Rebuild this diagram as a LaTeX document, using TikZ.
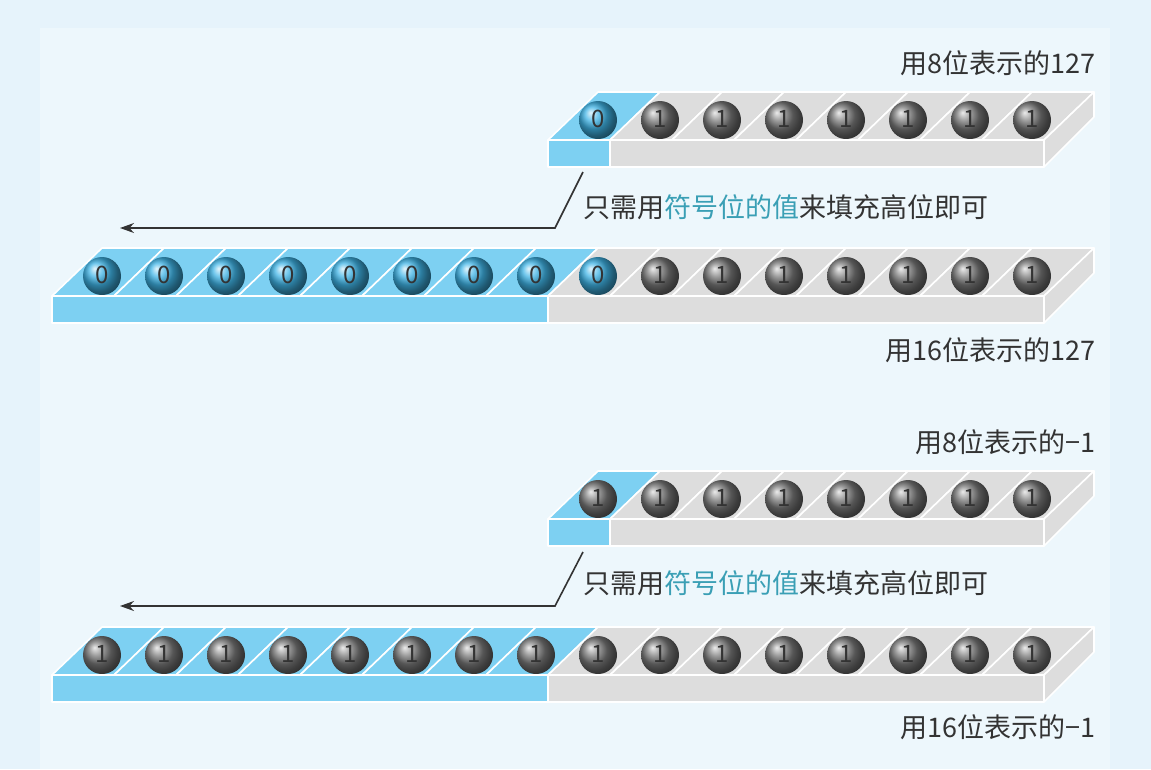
\documentclass[tikz,border=0pt]{standalone}
\usepackage{fontspec}
\setmainfont{Noto Sans CJK SC}
\usetikzlibrary{arrows.meta}
\definecolor{bgout}{HTML}{E6F3FB}
\definecolor{bgin}{HTML}{EDF7FC}
\definecolor{tblue}{HTML}{7DD0F2}
\definecolor{tgray}{HTML}{DDDDDD}
\definecolor{txt}{HTML}{333333}
\definecolor{hl}{HTML}{3A9FB5}
\definecolor{bballc}{HTML}{3FB4E6}
\definecolor{gballc}{HTML}{7A7A7A}
\tikzset{
  face/.style={draw=white,line width=1.6pt,line join=round},
  lbl/.style={font=\fontsize{27}{30}\selectfont,text=txt,inner sep=0pt},
  digit/.style={font=\fontsize{24}{26}\selectfont,text=txt,inner sep=0pt},
  conn/.style={draw=txt,line width=1.6pt},
}
% #1 x0, #2 front y, #3 n blue cells, #4 n total, #5 n blue balls, #6 digit blue, #7 digit gray
\newcommand{\mytray}[7]{%
  \pgfmathtruncatemacro{\last}{#4-1}
  \foreach \i in {0,...,\last}{
    \pgfmathsetmacro{\xa}{#1+62*\i}
    \pgfmathsetmacro{\xb}{#1+62*(\i+1)}
    \ifnum\i<#3 \def\cc{tblue}\else\def\cc{tgray}\fi
    \ifnum\i<#5 \def\bc{bballc}\def\dd{#6}\else\def\bc{gballc}\def\dd{#7}\fi
    \fill[\cc,face] (\xa,#2) -- (\xb,#2) -- (\xb+50,#2-48) -- (\xa+50,#2-48) -- cycle;
    \draw[white,line width=1.2pt] (\xa+73,#2) arc[start angle=0,end angle=180,radius=23] ;
    \shade[ball color=\bc] (\xa+50,#2-20) circle[radius=19];
    \node[digit] at (\xa+50,#2-21) {\dd};
  }
  \pgfmathsetmacro{\xm}{#1+62*#3}
  \pgfmathsetmacro{\xe}{#1+62*#4}
  \fill[tblue,face] (#1,#2) rectangle (\xm,#2+27);
  \fill[tgray,face] (\xm,#2) rectangle (\xe,#2+27);
  \fill[tgray,face] (\xe,#2) -- (\xe+50,#2-48) -- (\xe+50,#2-23) -- (\xe,#2+27) -- cycle;
}
\newcommand{\fillnote}{只需用{\color{hl}符号位的值}来填充高位即可}
\begin{document}
\begin{tikzpicture}[x=1pt,y=-1pt]
\fill[bgout] (0,0) rectangle (1151,769);
\fill[bgin] (40,28) rectangle (1110,769);
\useasboundingbox (0,0) rectangle (1151,769);

\mytray{548}{140}{1}{8}{1}{0}{1}
\mytray{52}{296}{8}{16}{9}{0}{1}
\mytray{548}{519}{1}{8}{0}{1}{1}
\mytray{52}{675}{8}{16}{0}{1}{1}

\node[lbl,anchor=east] (l1) at (1096,63) {用8位表示的127};
\node[lbl,anchor=east] (l2) at (1096,350) {用16位表示的127};
\node[lbl,anchor=east] (l3) at (1096,442) {用8位表示的−1};
\node[lbl,anchor=east] (l4) at (1096,727) {用16位表示的−1};

\node[lbl,anchor=west] (n1) at (583,207) {\fillnote};
\node[lbl,anchor=west] (n2) at (583,583) {\fillnote};

\coordinate (a1) at (583,172); \coordinate (b1) at (555,228); \coordinate (c1) at (120,228);
\coordinate (a2) at (583,552); \coordinate (b2) at (555,606); \coordinate (c2) at (120,606);
\draw[conn,-{Stealth[length=14pt,width=10pt]}] (a1) -- (b1) -- (c1);
\draw[conn,-{Stealth[length=14pt,width=10pt]}] (a2) -- (b2) -- (c2);
\end{tikzpicture}
\end{document}
